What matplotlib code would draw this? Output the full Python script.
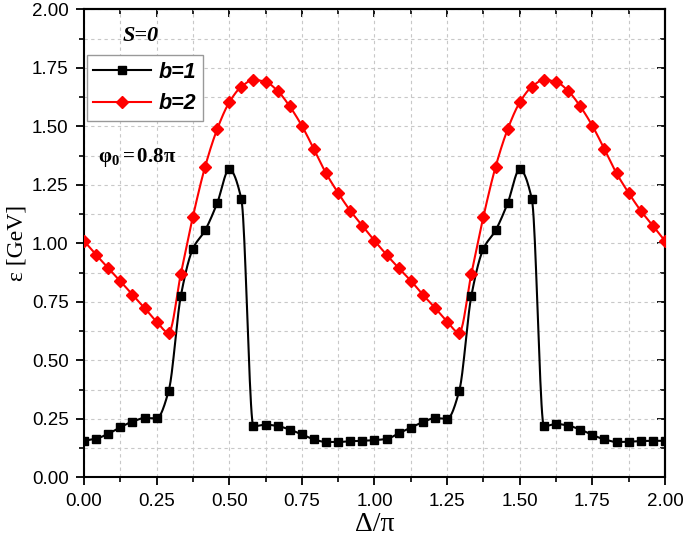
import numpy as np
import matplotlib
matplotlib.use('Agg')
import matplotlib.pyplot as plt
from matplotlib.ticker import MultipleLocator, FormatStrFormatter

# data, step of pi/24 in Delta
delta = np.arange(49) / 24.0

eps_b1 = [0.156, 0.165, 0.186, 0.214, 0.238, 0.253, 0.252, 0.370, 0.775, 0.977,
          1.055, 1.171, 1.316, 1.189, 0.218, 0.225, 0.219, 0.204, 0.183, 0.162,
          0.151, 0.151, 0.154, 0.156, 0.159,
          0.164, 0.188, 0.212, 0.236, 0.253, 0.250, 0.369, 0.775, 0.977,
          1.055, 1.171, 1.316, 1.189, 0.218, 0.228, 0.221, 0.204, 0.181, 0.162,
          0.151, 0.152, 0.155, 0.156, 0.156]

eps_b2 = [1.010, 0.951, 0.894, 0.838, 0.781, 0.724, 0.665, 0.618, 0.869, 1.114,
          1.326, 1.487, 1.602, 1.669, 1.698, 1.690, 1.651, 1.585, 1.502, 1.402,
          1.299, 1.215, 1.139, 1.075, 1.011,
          0.951, 0.894, 0.840, 0.780, 0.724, 0.665, 0.618, 0.869, 1.114,
          1.326, 1.487, 1.602, 1.669, 1.698, 1.690, 1.651, 1.585, 1.502, 1.402,
          1.299, 1.215, 1.139, 1.075, 1.010]


def pchip_curve(x, y, n=20):
    # monotone cubic hermite, only used to draw the connecting line
    x = np.asarray(x, float)
    y = np.asarray(y, float)
    h = np.diff(x)
    d = np.diff(y) / h
    m = np.zeros_like(y)
    m[0] = d[0]
    m[-1] = d[-1]
    for k in range(1, len(x) - 1):
        if d[k - 1] * d[k] > 0:
            w1 = 2 * h[k] + h[k - 1]
            w2 = h[k] + 2 * h[k - 1]
            m[k] = (w1 + w2) / (w1 / d[k - 1] + w2 / d[k])
    xs, ys = [], []
    for k in range(len(x) - 1):
        t = np.linspace(0, 1, n, endpoint=False)
        h00 = 2 * t**3 - 3 * t**2 + 1
        h10 = t**3 - 2 * t**2 + t
        h01 = -2 * t**3 + 3 * t**2
        h11 = t**3 - t**2
        xs.append(x[k] + t * h[k])
        ys.append(h00 * y[k] + h10 * h[k] * m[k] + h01 * y[k + 1] + h11 * h[k] * m[k + 1])
    xs.append([x[-1]])
    ys.append([y[-1]])
    return np.concatenate(xs), np.concatenate(ys)


plt.rcParams['font.family'] = ['Liberation Sans', 'DejaVu Sans']
plt.rcParams['mathtext.fontset'] = 'custom'
plt.rcParams['mathtext.rm'] = 'Liberation Serif'
plt.rcParams['mathtext.bf'] = 'Liberation Serif:bold'
plt.rcParams['mathtext.it'] = 'Liberation Serif:italic'

fig = plt.figure(figsize=(6.85, 5.45), dpi=100)
ax = fig.add_axes([0.1226, 0.1242, 0.8482, 0.8588])

xs, ys = pchip_curve(delta, eps_b1)
ax.plot(xs, ys, color='black', lw=1.5, zorder=3)
ax.plot(delta, eps_b1, ls='none', marker='s', ms=6, color='black', zorder=4)
xs, ys = pchip_curve(delta, eps_b2)
ax.plot(xs, ys, color='red', lw=1.5, zorder=3)
ax.plot(delta, eps_b2, ls='none', marker='D', ms=6, color='red', zorder=4)

# legend proxies
h1, = ax.plot([], [], color='black', lw=1.5, marker='s', ms=6)
h2, = ax.plot([], [], color='red', lw=1.5, marker='D', ms=6)
leg = ax.legend([h1, h2], ['b=1', 'b=2'], loc='upper left',
                bbox_to_anchor=(0.005, 0.902), borderaxespad=0,
                frameon=True, fancybox=False,
                edgecolor='#999999', framealpha=1, handlelength=2.7,
                borderpad=0.3, labelspacing=0.5, handletextpad=0.35,
                prop={'family': 'Liberation Sans', 'weight': 'bold',
                      'style': 'italic', 'size': 15.5})
leg.get_frame().set_linewidth(1.0)

ax.text(0.097, 0.943, 'S=0', transform=ax.transAxes, ha='center', va='center',
        fontsize=16, family='Liberation Serif', weight='bold', style='italic')
ax.text(0.024, 0.684, r'$\mathbf{\varphi_0=0.8\pi}$', transform=ax.transAxes,
        ha='left', va='center', fontsize=15)

ax.set_xlim(0, 2)
ax.set_ylim(0, 2)
ax.xaxis.set_major_locator(MultipleLocator(0.25))
ax.xaxis.set_minor_locator(MultipleLocator(0.125))
ax.yaxis.set_major_locator(MultipleLocator(0.25))
ax.yaxis.set_minor_locator(MultipleLocator(0.125))
ax.xaxis.set_major_formatter(FormatStrFormatter('%.2f'))
ax.yaxis.set_major_formatter(FormatStrFormatter('%.2f'))
ax.grid(which='both', color='#c8c8c8', ls=(0, (3, 3)), lw=0.8)
ax.set_axisbelow(True)
ax.tick_params(which='major', direction='out', length=6, width=1.3,
               labelsize=13.5, pad=5)
ax.tick_params(which='minor', direction='out', length=3.5, width=1.2)
for s in ax.spines.values():
    s.set_linewidth(1.5)

# mirrored ticks pointing inward on top and right
top = ax.secondary_xaxis('top')
right = ax.secondary_yaxis('right')
for sec, axis in ((top, top.xaxis), (right, right.yaxis)):
    axis.set_major_locator(MultipleLocator(0.25))
    axis.set_minor_locator(MultipleLocator(0.125))
    sec.tick_params(which='major', direction='in', length=6, width=1.3)
    sec.tick_params(which='minor', direction='in', length=3.5, width=1.2)
    axis.set_major_formatter(plt.NullFormatter())
    sec.spines[:].set_linewidth(1.5)

ax.set_xlabel('Δ/π', family='Liberation Serif', fontsize=20, labelpad=2)
ax.set_ylabel('ε [GeV]', family='Liberation Serif', fontsize=17, labelpad=3)

fig.savefig('out.png', dpi=100)
